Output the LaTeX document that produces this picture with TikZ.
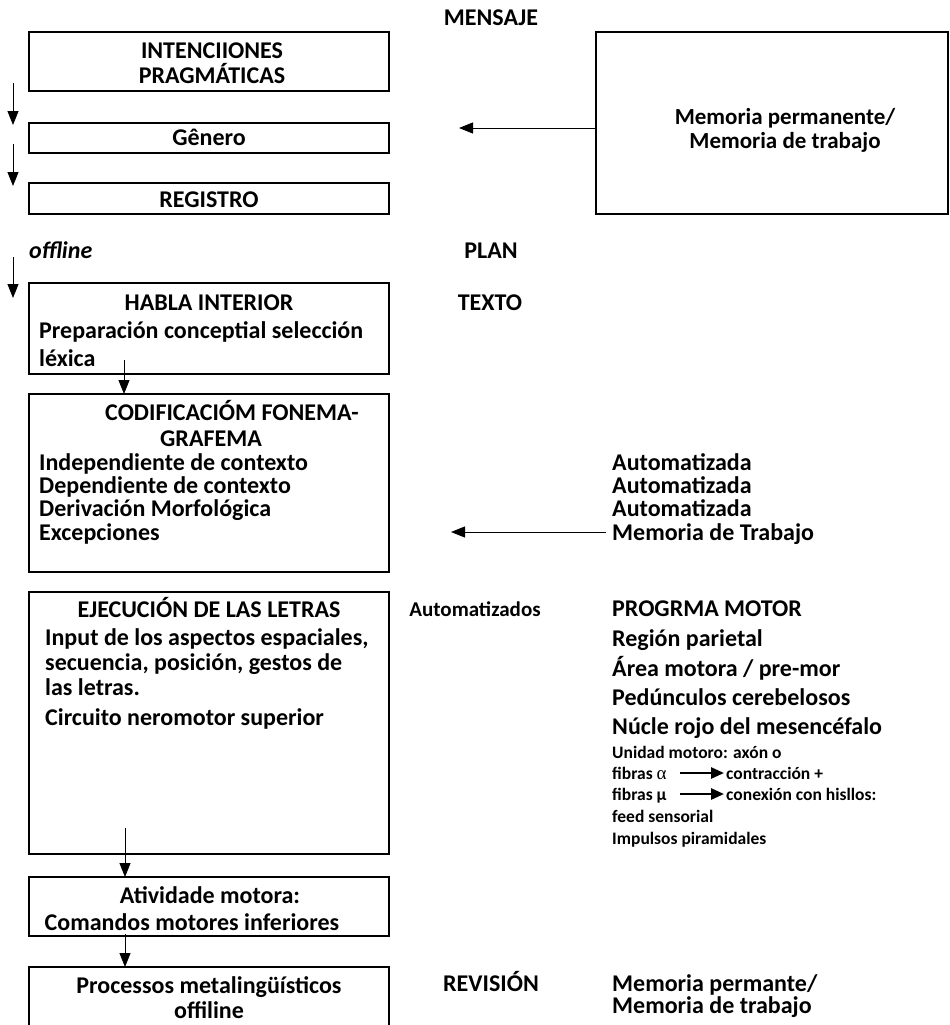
\documentclass[tikz,border=0pt]{standalone}
\usepackage{fontspec}
\setmainfont{Carlito}
\newfontfamily\greekserif{Liberation Serif}
\usetikzlibrary{arrows.meta}
\begin{document}
\begin{tikzpicture}[x=1pt,y=-1pt,
  box/.style={draw, line width=1.8pt, inner sep=0, outer sep=0, anchor=north west, minimum width=360pt},
  big/.style={font=\fontsize{24}{28}\selectfont\bfseries, inner sep=0},
  sm/.style={font=\fontsize{17.5}{21}\selectfont\bfseries, inner sep=0},
  arr/.style={line width=0.9pt, -{Triangle[width=11pt,length=14pt]}},
  thickarr/.style={line width=2.6pt, -{Triangle[width=11pt,length=13pt]}},
]
\useasboundingbox (0,0) rectangle (950,1025);
\clip (0,0) rectangle (950,1025);

% boxes
\node[box, minimum height=59pt] (b1) at (29,32) {};
\node[box, minimum height=30pt] (gen) at (29,123) {};
\node[box, minimum height=31pt] (reg) at (29,183) {};
\node[box, minimum width=352pt, minimum height=182pt] (mem) at (596,32) {};
\node[box, minimum height=91pt] (hab) at (29,283) {};
\node[box, minimum height=178pt] (cod) at (29,394) {};
\node[box, minimum height=262pt] (eje) at (29,592) {};
\node[box, minimum height=59pt] (ati) at (29,877) {};
\node[box, minimum height=90pt] (pro) at (29,967) {};

% top texts
\node[big, anchor=base] (mensaje) at (491,26) {MENSAJE};
\node[big, anchor=base] (t1a) at (212,59) {INTENCIIONES};
\node[big, anchor=base] (t1b) at (212,84) {PRAGMÁTICAS};
\node[big, anchor=base] (tgen) at (209,145) {Gênero};
\node[big, anchor=base] (treg) at (209,207) {REGISTRO};
\node[big, anchor=base, font=\fontsize{23}{28}\selectfont\bfseries] (mema) at (785,124) {Memoria permanente/};
\node[big, anchor=base, font=\fontsize{23}{28}\selectfont\bfseries] (memb) at (785,148) {Memoria de trabajo};

\node[big, anchor=base west, font=\fontsize{24}{28}\selectfont\bfseries\itshape] (offl) at (29,258) {offline};
\node[big, anchor=base] (plan) at (491,258) {PLAN};

% habla
\node[big, anchor=base] (thab) at (209,310) {HABLA INTERIOR};
\node[big, anchor=base] (texto) at (490,310) {TEXTO};
\node[big, anchor=base west] (prep) at (39,338) {Preparación conceptial selección};
\node[big, anchor=base west] (lex) at (39,366) {léxica};

% codificacion
\node[big, anchor=base] (tcod) at (232,420) {CODIFICACIÓM FONEMA-};
\node[big, anchor=base] (tgraf) at (211,446) {GRAFEMA};
\node[big, anchor=base west] (c1) at (39,470) {Independiente de contexto};
\node[big, anchor=base west] (c2) at (39,493) {Dependiente de contexto};
\node[big, anchor=base west] (c3) at (39,516) {Derivación Morfológica};
\node[big, anchor=base west] (c4) at (39,540) {Excepciones};
\node[big, anchor=base west] (a1) at (612,470) {Automatizada};
\node[big, anchor=base west] (a2) at (612,493) {Automatizada};
\node[big, anchor=base west] (a3) at (612,516) {Automatizada};
\node[big, anchor=base west] (mt) at (612,540) {Memoria de Trabajo};

% ejecucion
\node[big, anchor=base] (teje) at (209,617) {EJECUCIÓN DE LAS LETRAS};
\node[big, anchor=base west] (e1) at (45,645) {Input de los aspectos espaciales,};
\node[big, anchor=base west] (e2) at (45,670) {secuencia, posición, gestos de};
\node[big, anchor=base west] (e3) at (45,695) {las letras.};
\node[big, anchor=base west] (e4) at (45,725) {Circuito neromotor superior};
\node[big, anchor=base, font=\fontsize{21}{24}\selectfont\bfseries] (auto) at (475,616) {Automatizados};
\node[big, anchor=base west] (p1) at (612,616) {PROGRMA MOTOR};
\node[big, anchor=base west] (p2) at (612,646) {Región parietal};
\node[big, anchor=base west] (p3) at (612,676) {Área motora / pre-mor};
\node[big, anchor=base west] (p4) at (612,705) {Pedúnculos cerebelosos};
\node[big, anchor=base west] (p5) at (612,734) {Núcle rojo del mesencéfalo};
\node[sm, anchor=base west] (s1) at (612,758) {Unidad motoro: axón o};
\node[sm, anchor=base west] (fa) at (612,779) {fibras {\greekserif\mdseries\fontsize{19}{19}\selectfont α}};
\node[sm, anchor=base west] (fa2) at (726,779) {contracción +};
\node[sm, anchor=base west] (fm) at (612,800) {fibras µ};
\node[sm, anchor=base west] (fm2) at (726,800) {conexión con hisllos:};
\node[sm, anchor=base west] (s4) at (612,822) {feed sensorial};
\node[sm, anchor=base west] (s5) at (612,844) {Impulsos piramidales};

% atividade / processos
\node[big, anchor=base] (tati1) at (210,903) {Atividade motora:};
\node[big, anchor=base] (tati2) at (192,930) {Comandos motores inferiores};
\node[big, anchor=base] (tpro1) at (209,993) {Processos metalingüísticos};
\node[big, anchor=base] (tpro2) at (209,1018) {offiline};
\node[big, anchor=base] (rev) at (491,991) {REVISIÓN};
\node[big, anchor=base west] (r1) at (612,991) {Memoria permante/};
\node[big, anchor=base west] (r2) at (612,1013) {Memoria de trabajo};

% connector end points
\coordinate (l1s) at (13,83);  \coordinate (l1e) at (13,125);
\coordinate (l2s) at (13,144); \coordinate (l2e) at (13,186);
\coordinate (l3s) at (13,257); \coordinate (l3e) at (13,298);
\coordinate (mems) at (596,128); \coordinate (meme) at (459,128);
\coordinate (hs) at (124,360);
\coordinate (es) at (125,828);
\coordinate (as) at (125,934);
\coordinate (mts) at (606,532); \coordinate (mte) at (451,532);
\coordinate (fas) at (680,773); \coordinate (fae) at (724,773);
\coordinate (fms) at (680,794); \coordinate (fme) at (724,794);

% connectors
\draw[arr] (l1s) -- (l1e);
\draw[arr] (l2s) -- (l2e);
\draw[arr] (l3s) -- (l3e);
\draw[arr] (mems) -- (meme);
\draw[arr] (hs) -- (hs |- cod.north);
\draw[arr] (es) -- (es |- ati.north);
\draw[arr] (as) -- (as |- pro.north);
\draw[arr] (mts) -- (mte);
\draw[thickarr] (fas) -- (fae);
\draw[thickarr] (fms) -- (fme);
\end{tikzpicture}
\end{document}
